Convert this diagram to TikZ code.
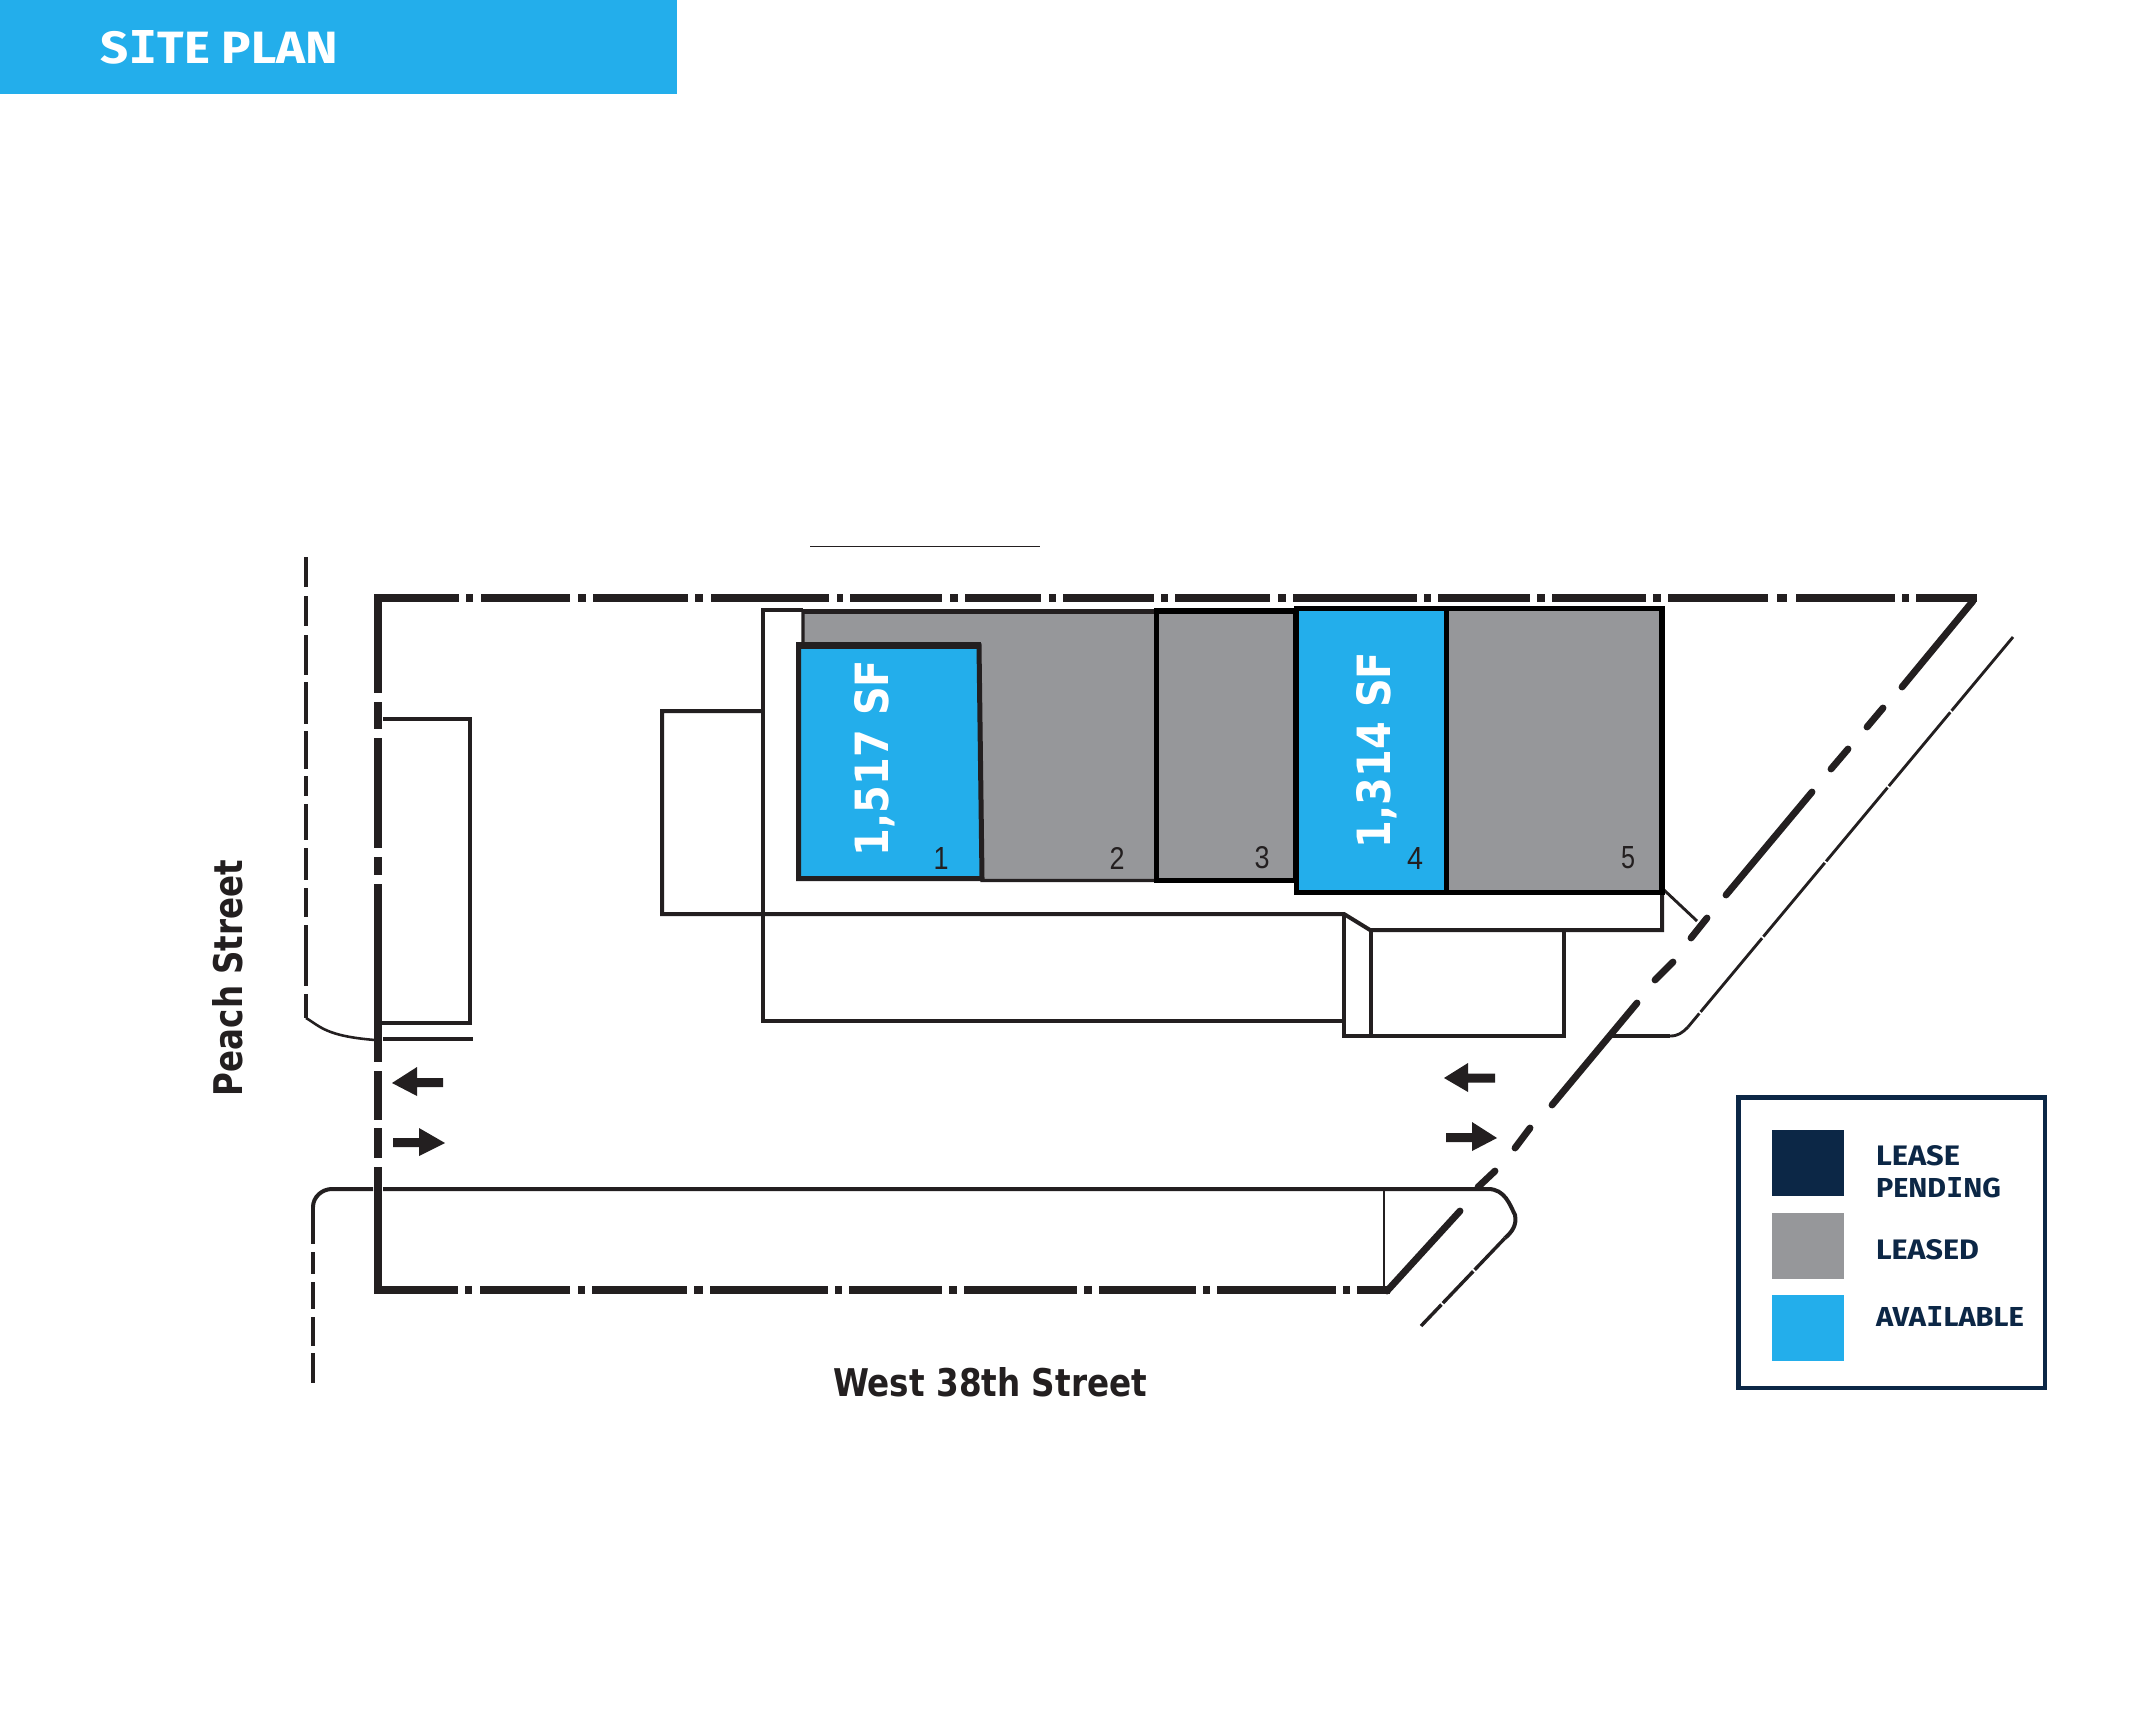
\documentclass[tikz,border=0pt]{standalone}
\usepackage{fontspec}
\setmainfont{Fira Sans}
\newfontfamily\dvsans{DejaVu Sans}
\newfontfamily\dvmono{DejaVu Sans Mono}
\newfontfamily\lbsans{Liberation Sans}
\newdimen\pxu \pxu=0.35pt
\newcommand\plexi{{\dvmono I}}
\definecolor{sky}{HTML}{23AEEB}
\definecolor{greyunit}{HTML}{96979A}
\definecolor{navy}{HTML}{0C2746}
\definecolor{ink}{HTML}{231F20}
\tikzset{
  x=0.35pt,y=-0.35pt,
  lbl/.style={inner sep=0pt,outer sep=0pt},
  prop/.style={ink,line width=2.8pt},
  propdiag/.style={ink,line width=2.4pt,line cap=round},
  thin line/.style={ink,line width=1.4pt},
  road/.style={ink,line width=1.2pt},
  roadthin/.style={ink,line width=1pt},
  arrowshape/.style={fill=ink,draw=none}
}
\begin{document}
\begin{tikzpicture}
\useasboundingbox (0,0) rectangle (2150,1712);
\fill[white] (0,0) rectangle (2150,1712);
% banner
\fill[sky] (0,0) rectangle (677,94);
\node[lbl,anchor=base west,text=white] (title) at (100,64) {\resizebox{238\pxu}{33\pxu}{\bfseries S\plexi TE PLAN}};
% building outline
\draw[thin line,line join=miter] (803,610) -- (763,610) -- (763,1021) -- (1344,1021);
\draw[thin line] (763,711) -- (662,711) -- (662,914) -- (1344,914) -- (1370,930) -- (1662,930) -- (1662,892);
\draw[thin line] (1344,914) -- (1344,1036) -- (1564,1036) -- (1564,930);
\draw[thin line] (1371,930) -- (1371,1036);
\draw[ink,line width=1pt] (1664,890) -- (1697,921);
\draw[ink,line width=0.35pt] (810,546) -- (1040,546);
% units
\filldraw[fill=greyunit,draw=ink,line width=1.2pt] (803,612) -- (1156,612) -- (1156,880.5) -- (982,880.5) -- (979,646) -- (803,646) -- cycle;
\draw[ink,line width=2pt] (803,611.5) -- (1156,611.5);
\filldraw[fill=sky,draw=ink,line width=1.75pt] (798.5,645.5) -- (979,645.5) -- (982,878.5) -- (798.5,878.5) -- cycle;
\draw[ink,line width=2.4pt] (796,645.5) -- (981,645.5);
\filldraw[fill=greyunit,draw=black,line width=2pt] (1156.5,611) rectangle (1296,880.5);
\filldraw[fill=greyunit,draw=black,line width=2pt] (1446.5,608.5) rectangle (1662,892.5);
\filldraw[fill=sky,draw=black,line width=2pt] (1296.5,608.5) rectangle (1446.5,892.5);
% unit texts
\node[lbl,anchor=base west,rotate=90,text=white] (sfa) at (888.5,856) {\resizebox{196\pxu}{34\pxu}{\dvsans\bfseries 1,517 SF}};
\node[lbl,anchor=base west,rotate=90,text=white] (sfb) at (1390.5,848) {\resizebox{196\pxu}{34\pxu}{\dvsans\bfseries 1,314 SF}};
\foreach \nm/\t/\cx/\w in {na/1/941/15,nb/2/1117/15,nc/3/1262/15,nd/4/1415/16,ne/5/1628/14}
  \node[lbl,anchor=center,text=ink] (\nm) at (\cx,858) {\resizebox{\w\pxu}{22\pxu}{\lbsans \t}};
% property line: top
\foreach \a/\b in {374/459,466/473,481/570,578/586,593/688,695/703,711/829,837/843,850/942,950/958,965/1041,1049/1056,1063/1154,1161/1168,1175/1270,1278/1286,1293/1417,1424/1431,1438/1530,1537/1545,1552/1646,1653/1661,1668/1768,1777/1787,1796/1895,1902/1909,1916/1977}
  \draw[prop] (\a,598) -- (\b,598);
% property line: left
\foreach \a/\b in {594/693,702/729,738/848,857/875,884/1062,1071/1120,1128/1158,1167/1294}
  \draw[prop] (378,\a) -- (378,\b);
% property line: bottom
\foreach \a/\b in {374/458,465/472,480/570,578/585,592/687,694/703,710/828,835/842,849/942,949/957,964/1077,1084/1092,1099/1196,1203/1210,1217/1336,1343/1350,1357/1390}
  \draw[prop] (\a,1290) -- (\b,1290);
% property line: diagonal
\foreach \ax/\ay/\bx/\by in {1973/601/1902/687,1883/708/1867/727,1848/749/1831/769,1812/792/1726/895,1707/918/1691/938,1673/962/1655/980,1637/1003/1552/1105,1530/1128/1515/1148,1495/1171/1478/1187,1460/1211/1387/1291}
  \draw[propdiag] (\ax,\ay) -- (\bx,\by);
% parking on the left
\draw[thin line] (383,719) -- (470,719) -- (470,1023) -- (380,1023);
\draw[thin line] (383,1039) -- (473,1039);
% Peach Street edge
\foreach \a/\b in {557/587,596/626,635/675,682/724,731/769,776/796,804/840,848/880,888/917,925/986,994/1018}
  \draw[road] (306,\a) -- (306,\b);
\draw[ink,line width=0.9pt] (306,1018) .. controls (320,1026) and (325,1036) .. (375,1040);
% lower road
\foreach \a/\b in {1207/1244,1252/1274,1282/1309,1317/1346,1353/1383}
  \draw[road] (313,\a) -- (313,\b);
\draw[thin line] (313,1207) .. controls (313,1197) and (322,1189) .. (332,1189) -- (373,1189);
\draw[thin line] (383,1189) -- (1488,1189) .. controls (1505,1189) and (1510,1205) .. (1515,1215) .. controls (1517,1225) and (1512,1232) .. (1505,1238);
\draw[road,dash pattern=on 44\pxu off 2\pxu] (1505,1238) -- (1421,1326);
\draw[ink,line width=1pt] (1384,1189) -- (1384,1290);
% upper road
\draw[roadthin,dash pattern=on 96\pxu off 2\pxu] (2013,637) -- (1688,1027);
\draw[roadthin] (1688,1027) .. controls (1682,1033) and (1678,1036) .. (1670,1036);
\draw[thin line] (1670,1036) -- (1608,1036);
% arrows
\fill[arrowshape] (392,1083) -- (417,1067) -- (417,1078) -- (443,1078) -- (443,1087) -- (417,1087) -- (417,1096) -- cycle;
\fill[arrowshape] (445,1143) -- (419,1128) -- (419,1138) -- (393,1138) -- (393,1147) -- (419,1147) -- (419,1156) -- cycle;
\fill[arrowshape] (1444,1078) -- (1468,1063) -- (1468,1073.5) -- (1495,1073.5) -- (1495,1082.5) -- (1468,1082.5) -- (1468,1092) -- cycle;
\fill[arrowshape] (1497,1138) -- (1472,1122) -- (1472,1133) -- (1446,1133) -- (1446,1142) -- (1472,1142) -- (1472,1151) -- cycle;
% street names
\node[lbl,anchor=base west,rotate=90,text=ink] (peach) at (242.5,1096) {\resizebox{236\pxu}{30\pxu}{\dvsans\bfseries Peach Street}};
\node[lbl,anchor=base west,text=ink] (west) at (833,1396) {\resizebox{314\pxu}{29\pxu}{\dvsans\bfseries West 38th Street}};
% legend
\draw[navy,line width=1.6pt] (1738.5,1097.5) rectangle (2045,1388);
\fill[navy] (1772,1130) rectangle (1844,1196);
\fill[greyunit] (1772,1213) rectangle (1844,1279);
\fill[sky] (1772,1295) rectangle (1844,1361);
\node[lbl,anchor=base west,text=navy] (la) at (1876,1165) {\resizebox{84\pxu}{20\pxu}{\bfseries LEASE}};
\node[lbl,anchor=base west,text=navy] (lb) at (1876,1197) {\resizebox{125\pxu}{20\pxu}{\bfseries PEND\plexi NG}};
\node[lbl,anchor=base west,text=navy] (lc) at (1876,1259) {\resizebox{103\pxu}{20\pxu}{\bfseries LEASED}};
\node[lbl,anchor=base west,text=navy] (ld) at (1876,1326) {\resizebox{148\pxu}{20\pxu}{\bfseries AVA\plexi LABLE}};
\end{tikzpicture}
\end{document}
